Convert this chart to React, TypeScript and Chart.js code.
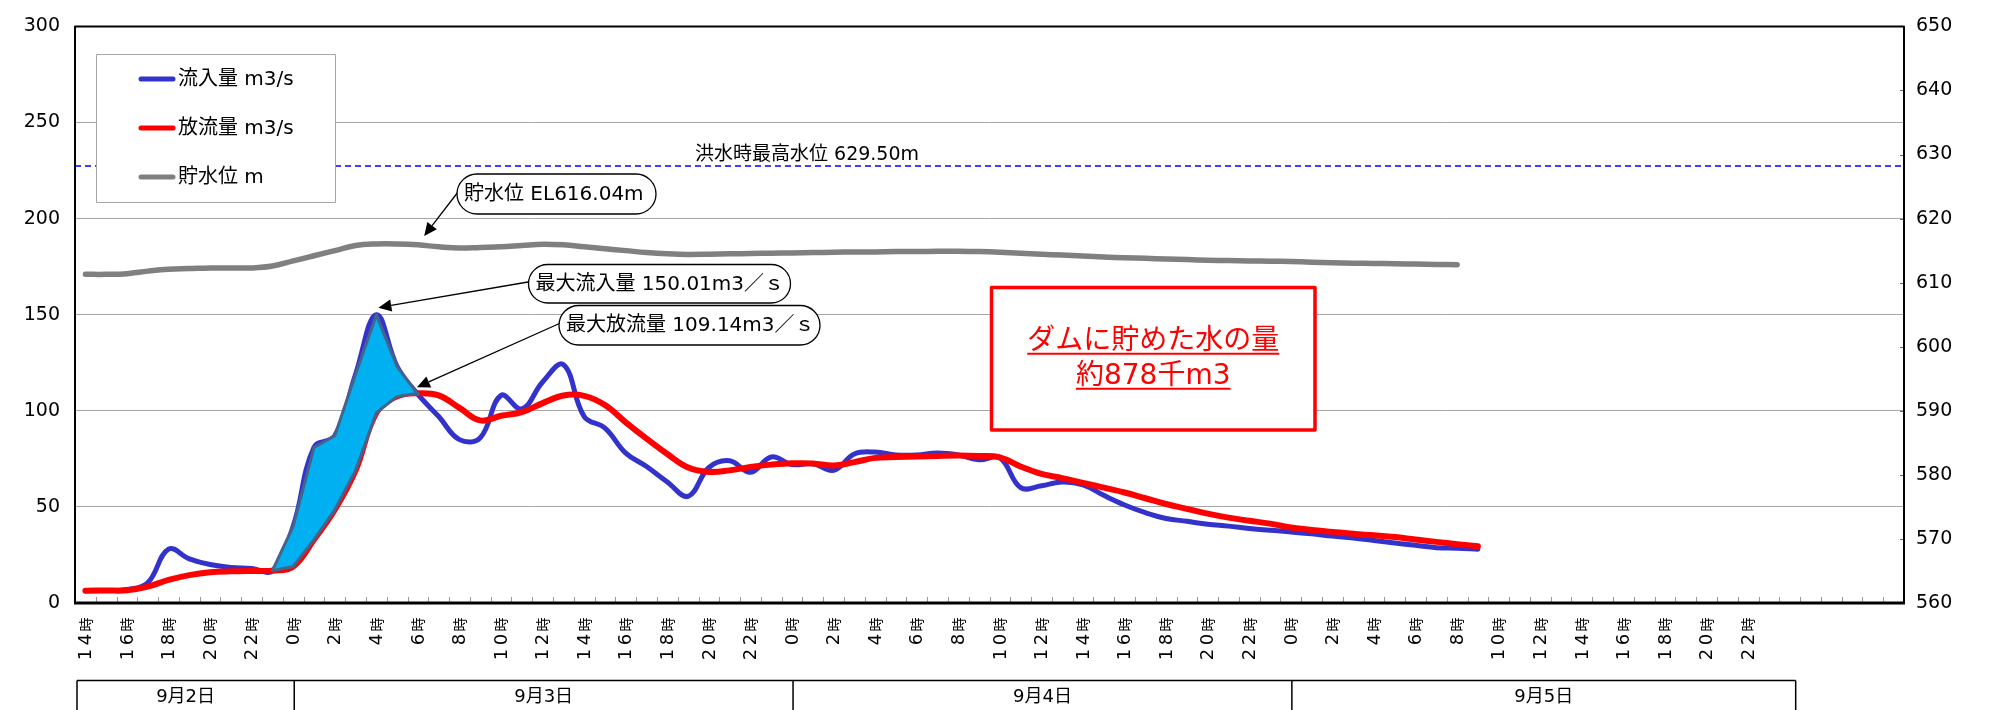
import React, { useEffect, useRef } from 'react';
import { Chart, registerables } from 'chart.js';

Chart.register(...registerables);

const FONT = '"DejaVu Sans", "Noto Sans CJK JP", sans-serif';
const CJK = '"Noto Sans CJK JP", "DejaVu Sans", sans-serif';

// x tick labels: one category per hour, 9/2 14時 … 9/6 5時
const tickLabels: string[] = [
  '14時', '', '16時', '', '18時', '', '20時', '', '22時', '',
  '0時', '', '2時', '', '4時', '', '6時', '', '8時', '', '10時', '', '12時', '',
  '14時', '', '16時', '', '18時', '', '20時', '', '22時', '',
  '0時', '', '2時', '', '4時', '', '6時', '', '8時', '', '10時', '', '12時', '',
  '14時', '', '16時', '', '18時', '', '20時', '', '22時', '',
  '0時', '', '2時', '', '4時', '', '6時', '', '8時', '', '10時', '', '12時', '',
  '14時', '', '16時', '', '18時', '', '20時', '', '22時', '',
  '', '', '', '', '', '',
];

const days = ['9月2日', '9月3日', '9月4日', '9月5日'];
const dayStart = [0, 10, 34, 58];
const tableEnd = 82;

// 流入量 m3/s
const inflow: number[] = [
  6.4, 6.5, 7.0, 10.5, 28.0, 23.0, 20.0, 18.5, 18.0, 16.8,
  40.0, 81.0, 87.0, 119.0, 150.01, 123.0, 108.5, 97.0, 85.0, 86.0,
  108.0, 101.0, 115.0, 124.0, 97.0, 91.0, 78.0, 71.0, 63.0, 55.5,
  70.5, 74.0, 68.0, 76.0, 72.0, 72.5, 69.0, 77.5, 78.5, 77.0,
  77.0, 78.0, 77.0, 74.5, 75.5, 60.0, 61.0, 63.0, 61.5, 56.0,
  51.0, 47.0, 44.0, 42.5, 41.0, 40.0, 38.8, 37.8, 37.0, 36.0,
  34.8, 33.8, 32.5, 31.2, 30.0, 28.8, 28.5, 28.0,
];

// 放流量 m3/s
const outflow: number[] = [
  6.4, 6.5, 6.6, 8.5, 12.0, 14.5, 16.0, 16.5, 16.7, 16.8,
  19.0, 33.0, 48.5, 69.0, 99.0, 107.5, 109.14, 108.0, 101.5, 95.0,
  97.4, 99.3, 104.0, 108.0, 107.8, 103.0, 94.0, 85.5, 77.5, 70.5,
  68.2, 69.0, 70.8, 72.0, 72.7, 72.6, 71.5, 73.3, 75.5, 75.9,
  76.2, 76.5, 76.7, 76.5, 75.8, 71.0, 67.2, 65.0, 62.5, 60.0,
  57.5, 54.5, 51.5, 49.0, 46.5, 44.4, 42.8, 41.3, 39.3, 38.0,
  37.0, 36.0, 35.2, 34.3, 33.0, 31.8, 30.6, 29.5,
];

// 貯水位 m
const level: number[] = [
  611.3, 611.3, 611.4, 611.8, 612.1, 612.2, 612.3, 612.3, 612.3, 612.6,
  613.4, 614.2, 615.0, 615.8, 616.04, 616.04, 615.9, 615.6, 615.4, 615.5,
  615.6, 615.8, 616.0, 615.9, 615.6, 615.3, 615.0, 614.7, 614.5, 614.4,
  614.45, 614.5, 614.55, 614.6, 614.65, 614.7, 614.75, 614.8, 614.8, 614.85,
  614.85, 614.9, 614.9, 614.85, 614.75, 614.6, 614.45, 614.3, 614.15, 614.0,
  613.9, 613.8, 613.7, 613.6, 613.5, 613.45, 613.4, 613.35, 613.3, 613.2,
  613.1, 613.05, 613.0, 612.95, 612.9, 612.85, 612.8,
];

const seriesNames = ['流入量 m3/s', '放流量 m3/s', '貯水位 m'];
const seriesColors = ['#3333CC', '#FF0000', '#808080'];

const storageFrom = 9;
const storageTo = 16;
const floodLevelDrawn = 628.2;
const floodLabel = '洪水時最高水位 629.50m';
const levelPeakIndex = 16.3;
const levelPeak = 616.04;
const maxInIndex = 14;
const maxIn = 150.01;
const maxOutIndex = 16;
const maxOut = 109.14;
const storageText = ['ダムに貯めた水の量', '約878千m3'];

function pill(ctx: CanvasRenderingContext2D, x: number, y: number, w: number, h: number) {
  const r = h / 2;
  ctx.beginPath();
  ctx.moveTo(x + r, y);
  ctx.lineTo(x + w - r, y);
  ctx.arc(x + w - r, y + r, r, -Math.PI / 2, Math.PI / 2);
  ctx.lineTo(x + r, y + h);
  ctx.arc(x + r, y + r, r, Math.PI / 2, Math.PI * 1.5);
  ctx.closePath();
}

function arrow(ctx: CanvasRenderingContext2D, x0: number, y0: number, x1: number, y1: number) {
  const a = Math.atan2(y1 - y0, x1 - x0);
  const len = 13, half = 6;
  const bx = x1 - len * Math.cos(a), by = y1 - len * Math.sin(a);
  ctx.beginPath();
  ctx.moveTo(x0, y0);
  ctx.lineTo(bx, by);
  ctx.strokeStyle = '#000';
  ctx.lineWidth = 1.3;
  ctx.stroke();
  ctx.beginPath();
  ctx.moveTo(x1, y1);
  ctx.lineTo(bx + half * Math.sin(a), by - half * Math.cos(a));
  ctx.lineTo(bx - half * Math.sin(a), by + half * Math.cos(a));
  ctx.closePath();
  ctx.fillStyle = '#000';
  ctx.fill();
}

function callout(ctx: CanvasRenderingContext2D, bx: number, by: number, bw: number, bh: number, text: string, tx: number, ty: number) {
  arrow(ctx, bx + 1, by + bh / 2 - 2, tx, ty);
  pill(ctx, bx, by, bw, bh);
  ctx.fillStyle = '#fff';
  ctx.fill();
  ctx.strokeStyle = '#000';
  ctx.lineWidth = 1.3;
  ctx.stroke();
  ctx.fillStyle = '#000';
  ctx.font = `20px ${FONT}`;
  ctx.textAlign = 'left';
  ctx.textBaseline = 'middle';
  ctx.fillText(text, bx + 7, by + bh / 2 + 1);
}

const overlay = {
  id: 'overlay',
  afterDatasetsDraw(chart: any) {
    const { ctx, chartArea: ca, scales } = chart;
    const xs = scales.x, ys = scales.y, y1s = scales.y1;
    ctx.save();

    // storage polygon
    const mIn = chart.getDatasetMeta(0), mOut = chart.getDatasetMeta(1);
    ctx.beginPath();
    for (let i = storageFrom; i <= storageTo; i++) {
      const p = mIn.data[i];
      if (i === storageFrom) ctx.moveTo(p.x, p.y); else ctx.lineTo(p.x, p.y);
    }
    for (let i = storageTo; i >= storageFrom; i--) {
      const p = mOut.data[i];
      ctx.lineTo(p.x, p.y);
    }
    ctx.closePath();
    ctx.fillStyle = '#00B0F0';
    ctx.fill();
    ctx.strokeStyle = '#44648E';
    ctx.lineWidth = 3;
    ctx.lineJoin = 'round';
    ctx.stroke();

    // flood level dashed line
    const fy = y1s.getPixelForValue(floodLevelDrawn);
    ctx.beginPath();
    ctx.setLineDash([6, 4]);
    ctx.moveTo(ca.left, fy);
    ctx.lineTo(ca.right, fy);
    ctx.strokeStyle = '#0000FF';
    ctx.lineWidth = 1.5;
    ctx.stroke();
    ctx.setLineDash([]);
    ctx.font = `19px ${FONT}`;
    ctx.fillStyle = '#000';
    ctx.textAlign = 'left';
    ctx.textBaseline = 'middle';
    ctx.fillText(floodLabel, 695, fy - 11);

    // legend
    const lx = 96.5, ly = 54.5, lw = 239, lh = 148;
    ctx.fillStyle = '#fff';
    ctx.fillRect(lx, ly, lw, lh);
    ctx.strokeStyle = '#A6A6A6';
    ctx.lineWidth = 1;
    ctx.strokeRect(lx, ly, lw, lh);
    seriesNames.forEach((name, k) => {
      const cy = 79 + k * 49;
      ctx.beginPath();
      ctx.moveTo(141, cy);
      ctx.lineTo(173, cy);
      ctx.strokeStyle = seriesColors[k];
      ctx.lineWidth = 5;
      ctx.lineCap = 'round';
      ctx.stroke();
      ctx.lineCap = 'butt';
      ctx.fillStyle = '#000';
      ctx.font = `20px ${FONT}`;
      ctx.textAlign = 'left';
      ctx.textBaseline = 'middle';
      ctx.fillText(name, 178, cy + 1);
    });

    // callouts
    callout(ctx, 457, 174, 199, 40, `貯水位 EL${levelPeak.toFixed(2)}m`,
      xs.getPixelForValue(levelPeakIndex), y1s.getPixelForValue(levelPeak) - 8);
    callout(ctx, 528.5, 264.5, 262, 38.5, `最大流入量 ${maxIn.toFixed(2)}m3／ｓ`,
      xs.getPixelForValue(maxInIndex) + 2, ys.getPixelForValue(maxIn) - 7);
    callout(ctx, 559, 305.5, 261, 39.5, `最大放流量 ${maxOut.toFixed(2)}m3／ｓ`,
      xs.getPixelForValue(maxOutIndex) - 1, ys.getPixelForValue(maxOut) - 6);

    // storage volume box
    ctx.fillStyle = '#fff';
    ctx.fillRect(991.5, 287.5, 323.5, 142.5);
    ctx.strokeStyle = '#FF0000';
    ctx.lineWidth = 3.5;
    ctx.strokeRect(991.5, 287.5, 323.5, 142.5);
    ctx.font = `28px ${FONT}`;
    ctx.fillStyle = '#FF0000';
    ctx.textAlign = 'center';
    ctx.textBaseline = 'middle';
    const cx = 991.5 + 323.5 / 2;
    [341.7, 376.7].forEach((cy, k) => {
      ctx.fillText(storageText[k], cx, cy);
      const w = ctx.measureText(storageText[k]).width;
      ctx.beginPath();
      ctx.moveTo(cx - w / 2, cy + 12);
      ctx.lineTo(cx + w / 2, cy + 12);
      ctx.strokeStyle = '#FF0000';
      ctx.lineWidth = 2;
      ctx.stroke();
    });

    // x minor ticks (inside)
    ctx.strokeStyle = '#999';
    ctx.lineWidth = 1;
    const n = tickLabels.length;
    for (let k = 0; k < n - 1; k++) {
      const bx = Math.round((xs.getPixelForValue(k) + xs.getPixelForValue(k + 1)) / 2) + 0.5;
      ctx.beginPath();
      ctx.moveTo(bx, ca.bottom);
      ctx.lineTo(bx, ca.bottom - 6);
      ctx.stroke();
    }
    // right axis inside ticks
    ctx.strokeStyle = '#666';
    for (let v = 560; v <= 650; v += 10) {
      const ty = Math.round(y1s.getPixelForValue(v)) + 0.5;
      ctx.beginPath();
      ctx.moveTo(ca.right, ty);
      ctx.lineTo(ca.right - 4, ty);
      ctx.stroke();
    }

    // frame
    ctx.strokeStyle = '#000';
    ctx.lineWidth = 2;
    ctx.beginPath();
    ctx.moveTo(ca.left, ca.bottom);
    ctx.lineTo(ca.left, ca.top);
    ctx.lineTo(ca.right, ca.top);
    ctx.lineTo(ca.right, ca.bottom);
    ctx.stroke();
    ctx.lineWidth = 3;
    ctx.beginPath();
    ctx.moveTo(ca.left - 1, ca.bottom);
    ctx.lineTo(ca.right + 1, ca.bottom);
    ctx.stroke();

    // rotated hour labels (each character on a fixed pitch, reading bottom to top)
    ctx.fillStyle = '#000';
    ctx.textAlign = 'center';
    ctx.textBaseline = 'middle';
    const pitch = 15;
    const labelTop = ca.bottom + 14;
    tickLabels.forEach((lab, i) => {
      if (!lab) return;
      const px = xs.getPixelForValue(i);
      const chars = Array.from(lab);
      chars.forEach((ch, j) => {
        const k = chars.length - 1 - j; // distance from the axis
        const cyc = labelTop + k * pitch + pitch / 2;
        const isDigit = /[0-9]/.test(ch);
        ctx.font = isDigit ? `18px ${FONT}` : `14px ${CJK}`;
        ctx.save();
        ctx.translate(px + (isDigit ? 1 : 0), cyc);
        ctx.rotate(-Math.PI / 2);
        ctx.fillText(ch, 0, 0);
        ctx.restore();
      });
    });

    // day table
    const top = 680.5;
    const edges = dayStart.map((s, k) => (k === 0 ? ca.left + 2 : xs.getPixelForValue(s) + 1));
    edges.push(xs.getPixelForValue(tableEnd) + 6);
    ctx.strokeStyle = '#000';
    ctx.lineWidth = 1.5;
    ctx.beginPath();
    ctx.moveTo(edges[0], top);
    ctx.lineTo(edges[edges.length - 1], top);
    edges.forEach((ex) => {
      ctx.moveTo(ex, top);
      ctx.lineTo(ex, 712);
    });
    ctx.stroke();
    ctx.fillStyle = '#000';
    ctx.font = `18px ${FONT}`;
    ctx.textAlign = 'center';
    ctx.textBaseline = 'middle';
    days.forEach((d, k) => {
      ctx.fillText(d, (edges[k] + edges[k + 1]) / 2, 697);
    });

    ctx.restore();
  },
};

export default function App() {
  const ref = useRef<HTMLCanvasElement | null>(null);
  useEffect(() => {
    if (!ref.current) return;
    const chart = new Chart(ref.current, {
      type: 'line',
      data: {
        labels: tickLabels,
        datasets: [
          {
            label: seriesNames[0], data: inflow, yAxisID: 'y', borderColor: seriesColors[0],
            borderWidth: 5, tension: 0.4, pointRadius: 0, fill: false, order: 2,
          },
          {
            label: seriesNames[1], data: outflow, yAxisID: 'y', borderColor: seriesColors[1],
            borderWidth: 6, tension: 0.4, pointRadius: 0, fill: false, order: 1,
          },
          {
            label: seriesNames[2], data: level, yAxisID: 'y1', borderColor: seriesColors[2],
            borderWidth: 5.5, tension: 0.4, pointRadius: 0, fill: false, order: 3,
          },
        ],
      },
      options: {
        responsive: false,
        animation: false,
        devicePixelRatio: 1,
        layout: { padding: { top: 24, left: 0, right: 0, bottom: 0 } },
        plugins: { legend: { display: false }, tooltip: { enabled: false } },
        elements: { line: { borderCapStyle: 'round', borderJoinStyle: 'round' } },
        scales: {
          x: {
            type: 'category',
            offset: true,
            grid: { display: false, drawTicks: false },
            border: { display: false },
            ticks: { display: false, autoSkip: false },
            afterFit: (s: any) => { s.height = 107; },
          },
          y: {
            position: 'left', min: 0, max: 300,
            ticks: { stepSize: 50, padding: 15, font: { family: FONT, size: 19 }, color: '#000' },
            grid: { color: '#A6A6A6', lineWidth: 1, drawTicks: false },
            border: { display: false },
            afterFit: (s: any) => { s.width = 75; },
          },
          y1: {
            position: 'right', min: 560, max: 650,
            ticks: { stepSize: 10, padding: 12, font: { family: FONT, size: 19 }, color: '#000' },
            grid: { drawOnChartArea: false, drawTicks: false },
            border: { display: false },
            afterFit: (s: any) => { s.width = 91; },
          },
        },
      } as any,
      plugins: [overlay],
    });
    return () => chart.destroy();
  }, []);
  return (
    <div style={{ position: 'fixed', left: 0, top: 0, width: 1995, height: 710, background: '#fff' }}>
      <canvas ref={ref} width={1995} height={710} style={{ display: 'block' }} />
    </div>
  );
}
